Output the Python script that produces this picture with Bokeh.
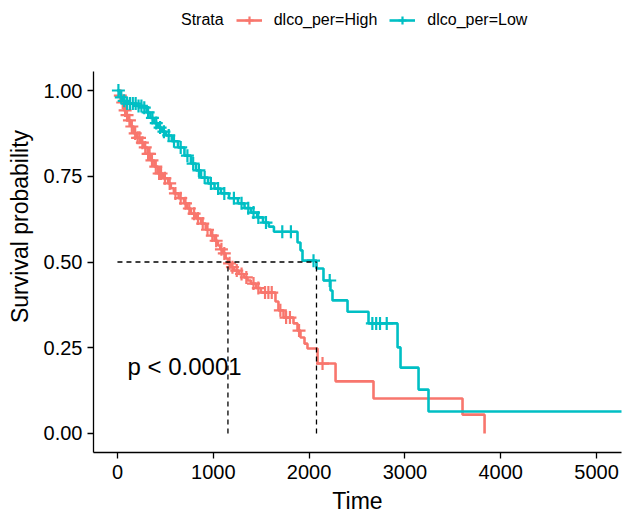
import numpy as np
from bokeh.plotting import figure
from bokeh.models import Legend, LegendItem, Range1d, FixedTicker, PrintfTickFormatter
from bokeh.core.properties import value
from bokeh.embed import file_html
from bokeh.resources import INLINE

# ---- data ----
high_time = [0, 20, 46, 68, 91, 109, 142, 172, 203, 243, 276, 314, 349, 385, 423, 476, 528, 557,
             589, 638, 695, 729, 767, 820, 872, 921, 976, 1013, 1049, 1073, 1102, 1129, 1153, 1185,
             1216, 1266, 1320, 1357, 1393, 1448, 1497, 1649, 1680, 1733, 1837, 1879, 1910, 1952,
             1983, 2088, 2276, 2672, 3601, 3831]
high_surv = [1.0, 0.985, 0.965, 0.942, 0.928, 0.913, 0.895, 0.875, 0.862, 0.848, 0.834, 0.815, 0.796,
             0.778, 0.758, 0.744, 0.729, 0.715, 0.700, 0.686, 0.671, 0.656, 0.641, 0.627, 0.612, 0.594,
             0.577, 0.562, 0.548, 0.537, 0.525, 0.510, 0.496, 0.485, 0.475, 0.465, 0.455, 0.446, 0.437,
             0.424, 0.411, 0.385, 0.359, 0.338, 0.321, 0.300, 0.280, 0.262, 0.248, 0.204, 0.152, 0.102,
             0.055, 0.0]
high_censor = [30, 55, 80, 100, 125, 150, 185, 210, 230, 260, 290, 320, 335, 360, 400, 435, 455, 495,
               545, 605, 660, 710, 750, 800, 840, 890, 940, 990, 1030, 1085, 1115, 1170, 1200, 1245,
               1295, 1345, 1420, 1470, 1540, 1575, 1610, 1700, 1760, 1800, 1895, 2140]

low_time = [0, 20, 36, 61, 89, 200, 276, 304, 344, 385, 423, 466, 506, 567, 632, 699, 767, 820, 872,
            945, 1013, 1080, 1164, 1258, 1326, 1393, 1458, 1519, 1580, 1633, 1879, 1910, 1931, 2077,
            2150, 2223, 2244, 2401, 2620, 2923, 2954, 3142, 3246, 5300]
low_surv = [1.0, 0.99, 0.98, 0.97, 0.962, 0.955, 0.95, 0.936, 0.92, 0.905, 0.892, 0.88, 0.869, 0.852,
            0.834, 0.81, 0.787, 0.767, 0.746, 0.729, 0.714, 0.70, 0.686, 0.671, 0.657, 0.644, 0.63,
            0.615, 0.603, 0.588, 0.557, 0.534, 0.504, 0.481, 0.446, 0.417, 0.388, 0.355, 0.321, 0.251,
            0.192, 0.128, 0.064, 0.064]
low_censor = [10, 40, 70, 100, 130, 160, 190, 220, 250, 280, 320, 365, 405, 445, 485, 535, 590, 660,
              730, 790, 850, 910, 975, 1050, 1115, 1215, 1295, 1365, 1420, 1470, 1550, 1720, 1810,
              2046, 2215, 2660, 2700, 2740, 2810]

strata_labels = ["dlco_per=High", "dlco_per=Low"]
colors = ["#F8766D", "#00BFC4"]
x_ticks = [0, 1000, 2000, 3000, 4000, 5000]
y_ticks = [0, 0.25, 0.5, 0.75, 1.0]
pval_text = "p < 0.0001"

FONT = "Liberation Sans"

p = figure(width=624, height=516, output_backend="svg", toolbar_location=None,
           x_range=Range1d(-250, 5260), y_range=Range1d(-0.0554, 1.2624),
           min_border_left=93, min_border_right=3, min_border_top=0, min_border_bottom=64)
p.outline_line_color = None
p.xgrid.visible = False
p.ygrid.visible = False
p.background_fill_color = "white"
p.border_fill_color = "white"


def surv_at(times, survs, t):
    idx = np.searchsorted(np.asarray(times), np.asarray(t), side="right") - 1
    return np.asarray(survs)[idx]


dummy = p.scatter([0], [0], size=0, alpha=0)
items = [LegendItem(label="Strata", renderers=[dummy])]

for times, survs, cens, col, lab in [(high_time, high_surv, high_censor, colors[0], strata_labels[0]),
                                     (low_time, low_surv, low_censor, colors[1], strata_labels[1])]:
    ln = p.step(times, survs, mode="after", line_color=col, line_width=2.6)
    cy = surv_at(times, survs, cens)
    cr = p.scatter(cens, cy, marker="cross", size=13, line_color=col, line_width=2.2)
    items.append(LegendItem(label=lab, renderers=[ln, cr]))

# median lines
meds = []
for times, survs in [(high_time, high_surv), (low_time, low_surv)]:
    arr_t = np.asarray(times)
    arr_s = np.asarray(survs)
    meds.append(float(arr_t[np.argmax(arr_s <= 0.5)]))
p.line([0, max(meds)], [0.5, 0.5], line_color="black", line_dash="5 4", line_width=1.3)
for m in meds:
    p.line([m, m], [0, 0.5], line_color="black", line_dash="5 4", line_width=1.3)

p.text(x=[105], y=[0.195], text=[pval_text], text_font=value(FONT), text_font_size="24px",
       text_align="left", text_baseline="middle", text_color="black")

# axes
for ax in (p.xaxis[0], p.yaxis[0]):
    ax.axis_line_color = "black"
    ax.axis_line_width = 1.3
    ax.major_tick_line_color = "black"
    ax.major_tick_line_width = 1.3
    ax.major_tick_out = 6
    ax.major_tick_in = 0
    ax.minor_tick_line_color = None
    ax.major_label_text_font = FONT
    ax.major_label_text_font_size = "20px"
    ax.major_label_text_color = "black"
    ax.axis_label_text_font = FONT
    ax.axis_label_text_font_size = "23px"
    ax.axis_label_text_font_style = "normal"
    ax.axis_label_text_color = "black"
    ax.major_label_standoff = 5
p.yaxis.bounds = (-0.0554, 1.0554)
p.xaxis.ticker = FixedTicker(ticks=x_ticks)
p.yaxis.ticker = FixedTicker(ticks=y_ticks)
p.yaxis.formatter = PrintfTickFormatter(format="%.2f")
p.xaxis.axis_label = "Time"
p.yaxis.axis_label = "Survival probability"
p.xaxis.axis_label_standoff = 6
p.xaxis.major_label_standoff = 6
p.yaxis.axis_label_standoff = 8

legend = Legend(items=items, orientation="horizontal", location=(50, 422),
                label_text_font=FONT, label_text_font_size="16px", label_text_color="black",
                glyph_width=26, glyph_height=20, label_standoff=12, spacing=12,
                padding=0, margin=0, border_line_color=None, background_fill_alpha=0)
p.add_layout(legend, "center")

open("out.html", "w").write(file_html(p, INLINE))
